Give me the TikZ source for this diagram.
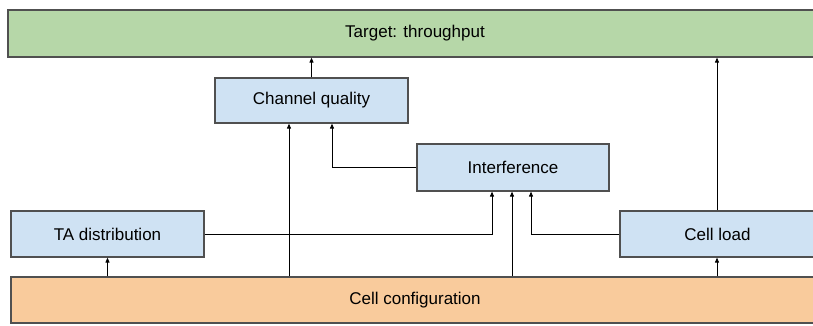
\documentclass[tikz,border=0pt]{standalone}
\usepackage{fontspec}
\setmainfont{Liberation Sans}
\usetikzlibrary{arrows.meta}
\definecolor{tgreen}{HTML}{B6D7A8}
\definecolor{tblue}{HTML}{CFE2F3}
\definecolor{torange}{HTML}{F9CB9C}
\definecolor{tborder}{HTML}{505050}
\begin{document}
\begin{tikzpicture}[x=1pt,y=-1pt,
  box/.style={draw=tborder,line width=1.2pt,rectangle,inner sep=0pt,
    font=\fontsize{17}{20}\selectfont},
  arr/.style={-{Triangle[length=5pt,width=4pt]},line width=0.9pt,black}]
\useasboundingbox (0,0) rectangle (813,325);
\node[box,fill=tgreen,minimum width=814pt,minimum height=47pt] (target) at (415,33.5) {Target: throughput};
\node[box,fill=tblue,minimum width=193pt,minimum height=45pt] (chq) at (311.5,100.5) {Channel quality};
\node[box,fill=tblue,minimum width=192pt,minimum height=47pt] (intf) at (513,167.5) {Interference};
\node[box,fill=tblue,minimum width=193pt,minimum height=46pt] (ta) at (107.5,234) {TA distribution};
\node[box,fill=tblue,minimum width=201pt,minimum height=46pt] (load) at (720.5,234) {\hspace*{-6pt}Cell load};
\node[box,fill=torange,minimum width=808pt,minimum height=46pt] (cfg) at (415,300) {Cell configuration};
\draw[arr] (load.north -| 717,0) -- (target.south -| 717,0);
\draw[arr] (chq.north) -- (target.south -| chq.north);
\draw[arr] (ta.south |- cfg.north) -- (ta.south);
\draw[arr] (cfg.north -| 717,0) -- (load.south -| 717,0);
\draw[arr] (cfg.north -| 289,0) -- (chq.south -| 289,0);
\draw[arr] (cfg.north -| 512,0) -- (intf.south -| 512,0);
\draw[arr] (intf.west) -| (chq.south -| 332,0);
\draw[arr] (ta.east) -| (intf.south -| 492,0);
\draw[arr] (load.west) -| (intf.south -| 531,0);
\end{tikzpicture}
\end{document}
